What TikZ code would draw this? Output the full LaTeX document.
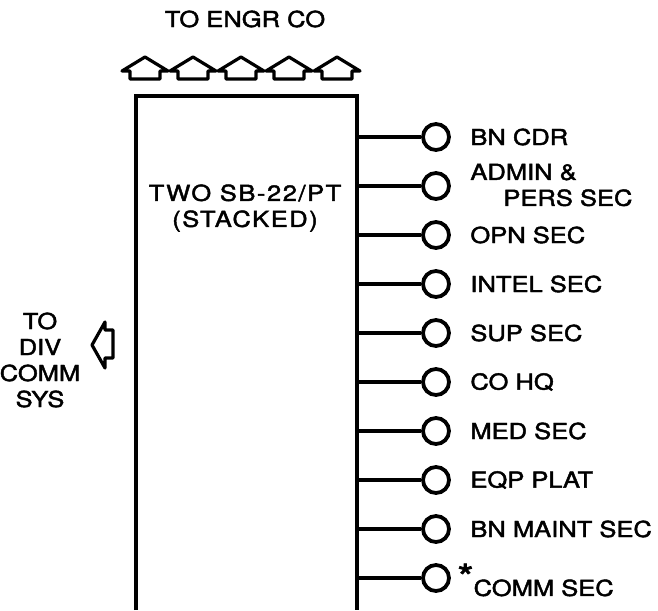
\documentclass[tikz,border=0pt]{standalone}
\usepackage{fontspec}
\newfontfamily\lettering{TeX Gyre Heros}[FakeStretch=1.16,FakeBold=2]
\usetikzlibrary{positioning}

\begin{document}
\begin{tikzpicture}[x=0.5pt,y=-0.5pt,
 wire/.style={line width=1.7pt},
 jack/.style={circle,draw,line width=1.9pt,inner sep=0pt,minimum size=13pt},
 lbl/.style={anchor=west,inner sep=0pt,font=\fontsize{11}{13}\lettering,align=left},
 txt/.style={inner sep=0pt,font=\fontsize{11}{13}\lettering,align=center},
 feed/.style={line width=1.6pt,line join=round}]
 \useasboundingbox (0,0) rectangle (658,610);
 % switchboard
 \draw[line width=1.8pt] (136,610) |- (357,96) -- (357,610);
 \coordinate (boxr) at (357,96);
 \node[txt] (sb) at (245,208) {\addfontfeatures{LetterSpace=7}TWO SB-22/PT\\\addfontfeatures{LetterSpace=7}(STACKED)};
 \node[txt] (engr) at (245,19) {TO ENGR CO};
 \node[txt] (div) at (40,360) {TO\\DIV\\COMM\\SYS};
 % trunk arrows
 \foreach \c in {145,193,241,289,337}
  \draw[feed] (\c,57) -- (\c+23,71) -- (\c+15,71) -- (\c+15,79) -- (\c-15,79) -- (\c-15,71) -- (\c-23,71) -- cycle;
 \draw[feed] (92,345) -- (105,322) -- (105,330) -- (113,330) -- (113,358) -- (105,358) -- (105,368) -- cycle;
 % local loops
 \node[jack] (j1) at (436,137) {}; \node[lbl] (l1) at (470,137) {BN CDR};
 \node[jack] (j2) at (436,186) {}; \node[lbl] (l2) at (470,185) {ADMIN \&\\\hspace*{16.5pt}PERS SEC};
 \node[jack] (j3) at (436,235) {}; \node[lbl] (l3) at (470,235) {OPN SEC};
 \node[jack] (j4) at (436,284) {}; \node[lbl] (l4) at (470,284) {INTEL SEC};
 \node[jack] (j5) at (436,333) {}; \node[lbl] (l5) at (470,333) {SUP SEC};
 \node[jack] (j6) at (436,382) {}; \node[lbl] (l6) at (470,382) {CO HQ};
 \node[jack] (j7) at (436,431) {}; \node[lbl] (l7) at (470,431) {MED SEC};
 \node[jack] (j8) at (436,480) {}; \node[lbl] (l8) at (470,480) {EQP PLAT};
 \node[jack] (j9) at (436,529) {}; \node[lbl] (l9) at (470,529) {BN MAINT SEC};
 \node[jack] (j10) at (436,578) {}; \node[lbl] (l10) at (457,580) {\raisebox{3pt}{\fontsize{18}{18}\selectfont *}COMM SEC};
 \draw[wire] (j1.west) -- (j1.west -| boxr); \draw[wire] (j2.west) -- (j2.west -| boxr);
 \draw[wire] (j3.west) -- (j3.west -| boxr); \draw[wire] (j4.west) -- (j4.west -| boxr);
 \draw[wire] (j5.west) -- (j5.west -| boxr); \draw[wire] (j6.west) -- (j6.west -| boxr);
 \draw[wire] (j7.west) -- (j7.west -| boxr); \draw[wire] (j8.west) -- (j8.west -| boxr);
 \draw[wire] (j9.west) -- (j9.west -| boxr); \draw[wire] (j10.west) -- (j10.west -| boxr);
\end{tikzpicture}
\end{document}
